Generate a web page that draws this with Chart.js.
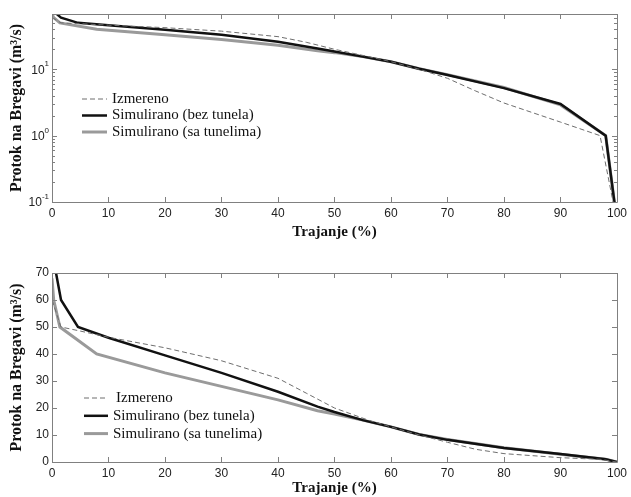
<!DOCTYPE html>
<html>
<head>
<meta charset="utf-8">
<script src="https://cdn.jsdelivr.net/npm/chart.js@4/dist/chart.umd.min.js"></script>
<style>
  html, body { margin: 0; padding: 0; background: #fff; }
  .wrap { position: absolute; left: 0; width: 631px; }
</style>
</head>
<body>
<div class="wrap" style="top:0;height:248px"><canvas id="log-chart"></canvas></div>
<div class="wrap" style="top:248px;height:249px"><canvas id="lin-chart"></canvas></div>
<script>
// Flow duration curves
// x = duration (%), y = discharge (m3/s)
const izmerenoX = [0, 1.6, 5, 10, 20, 30, 40, 45, 50, 56, 60, 65, 70, 75, 80, 90, 97, 100];
const izmerenoY = [60, 50, 48.5, 46.2, 42.3, 37.5, 31, 25.5, 20, 15.5, 13, 10, 7.3, 4.7, 3.1, 1.6, 1.0, 0];

const bezTunelaX = [0, 1.6, 4.6, 10, 20, 30, 40, 47, 50, 55, 60, 65, 70, 80, 90, 98, 100];
const bezTunelaY = [78, 60, 50, 46, 39.5, 33, 26, 20.5, 18.5, 15.5, 13, 10.2, 8.2, 5.2, 3.0, 1.0, 0];

const saTunelimaX = [0, 0.3, 1.4, 7.9, 20, 30, 40, 47, 50, 55, 60, 65, 70, 80, 90, 98, 100];
const saTunelimaY = [68, 60, 50, 40, 33, 28, 23, 19, 17.8, 15.5, 13, 10.2, 8.3, 5.3, 2.9, 1.0, 0];

const seriesNames = ['Izmereno', 'Simulirano (bez tunela)', 'Simulirano (sa tunelima)'];
const xTicks = [0, 10, 20, 30, 40, 50, 60, 70, 80, 90, 100];
const logTicks = [0.1, 1, 10];
const linTicks = [0, 10, 20, 30, 40, 50, 60, 70];

// a log axis has no zero, so zero flows are sent just below the axis floor
const LOG_FLOOR = 0.05;

const AXIS_FONT = 'Arial, "Liberation Sans", sans-serif';
const SERIF = '"Times New Roman", "Liberation Serif", serif';

function pairs(xs, ys, isLog) {
    return xs.map((x, i) => ({ x: x, y: isLog && ys[i] <= 0 ? LOG_FLOOR : ys[i] }));
}

function makeDatasets(isLog) {
    return [{
        label: seriesNames[0],
        data: pairs(izmerenoX, izmerenoY, isLog),
        borderColor: '#6e6e6e',
        borderWidth: 1,
        borderDash: [5, 3],
        order: 0
    }, {
        label: seriesNames[1],
        data: pairs(bezTunelaX, bezTunelaY, isLog),
        borderColor: '#111111',
        borderWidth: 2.5,
        order: 1
    }, {
        label: seriesNames[2],
        data: pairs(saTunelimaX, saTunelimaY, isLog),
        borderColor: '#9a9a9a',
        borderWidth: 3,
        order: 2
    }];
}

// box around the plot with inward ticks, MATLAB style
const framePlugin = {
    id: 'frame',
    afterDraw(chart, args, opts) {
        const ctx = chart.ctx;
        const a = chart.chartArea;
        const xs = chart.scales.x, ys = chart.scales.y;
        ctx.save();
        ctx.strokeStyle = '#808080';
        ctx.lineWidth = 1;
        ctx.beginPath();
        ctx.rect(Math.round(a.left) + 0.5, Math.round(a.top) + 0.5,
                 Math.round(a.right - a.left), Math.round(a.bottom - a.top));
        ctx.stroke();

        ctx.beginPath();
        xs.ticks.forEach(t => {
            const px = Math.round(xs.getPixelForValue(t.value)) + 0.5;
            ctx.moveTo(px, a.top); ctx.lineTo(px, a.top + 5);
            ctx.moveTo(px, a.bottom); ctx.lineTo(px, a.bottom - 5);
        });
        ys.ticks.forEach(t => {
            const py = Math.round(ys.getPixelForValue(t.value)) + 0.5;
            ctx.moveTo(a.left, py); ctx.lineTo(a.left + 5, py);
            ctx.moveTo(a.right, py); ctx.lineTo(a.right - 5, py);
        });
        if (opts.minor) {
            ys.ticks.forEach(t => {
                for (let m = 2; m <= 9; m++) {
                    const v = t.value * m;
                    if (v > ys.max) break;
                    const py = Math.round(ys.getPixelForValue(v)) + 0.5;
                    ctx.moveTo(a.left, py); ctx.lineTo(a.left + 3, py);
                    ctx.moveTo(a.right, py); ctx.lineTo(a.right - 3, py);
                }
            });
        }
        ctx.stroke();

        // powers of ten as 10 with a raised exponent
        if (opts.powerLabels) {
            ctx.fillStyle = '#222';
            ctx.textBaseline = 'middle';
            ys.ticks.forEach(t => {
                const py = ys.getPixelForValue(t.value);
                const exp = String(Math.round(Math.log10(t.value)));
                ctx.font = '8px ' + AXIS_FONT;
                const ew = ctx.measureText(exp).width;
                ctx.textAlign = 'right';
                ctx.fillText(exp, a.left - 3, py - 5);
                ctx.font = '12px ' + AXIS_FONT;
                ctx.fillText('10', a.left - 3 - ew, py + 1);
            });
        }
        ctx.restore();
    }
};

// legend drawn inside the plot area
const insideLegend = {
    id: 'insideLegend',
    afterDraw(chart, args, opts) {
        const ctx = chart.ctx;
        const a = chart.chartArea;
        ctx.save();
        ctx.font = '15px ' + SERIF;
        ctx.fillStyle = '#111';
        ctx.textBaseline = 'middle';
        ctx.textAlign = 'left';
        chart.data.datasets.forEach((ds, i) => {
            const y = a.top + opts.y + i * opts.row;
            ctx.strokeStyle = ds.borderColor;
            ctx.lineWidth = ds.borderWidth;
            ctx.setLineDash(ds.borderDash || []);
            ctx.beginPath();
            ctx.moveTo(opts.x1, y);
            ctx.lineTo(opts.x2, y);
            ctx.stroke();
            ctx.setLineDash([]);
            ctx.fillText(ds.label, opts.textX + (i === 0 ? opts.firstShift : 0), y);
        });
        ctx.restore();
    }
};

function xAxis(titleBottom, height) {
    return {
        type: 'linear',
        min: 0,
        max: 100,
        afterBuildTicks: s => { s.ticks = xTicks.map(v => ({ value: v })); },
        grid: { display: false, drawTicks: false },
        border: { display: false },
        ticks: { color: '#222', padding: 4, font: { family: AXIS_FONT, size: 12 } },
        title: {
            display: true,
            text: 'Trajanje (%)',
            color: '#111',
            font: { family: SERIF, size: 15, weight: 'bold' },
            padding: { top: 0, bottom: titleBottom }
        },
        afterFit: s => { s.height = height; }
    };
}

function yTitle() {
    return {
        display: true,
        text: 'Protok na Bregavi (m\u00B3/s)',
        color: '#111',
        font: { family: SERIF, size: 16, weight: 'bold' },
        padding: { top: 7, bottom: 0 }
    };
}

const logChart = new Chart(document.getElementById('log-chart').getContext('2d'), {
    type: 'line',
    data: { datasets: makeDatasets(true) },
    options: {
        responsive: true,
        maintainAspectRatio: false,
        animation: false,
        events: [],
        elements: { point: { radius: 0 }, line: { tension: 0 } },
        layout: { padding: { left: 0, right: 10, top: 14, bottom: 0 } },
        scales: {
            x: xAxis(7, 46),
            y: {
                type: 'logarithmic',
                min: 0.1,
                max: 68,
                afterBuildTicks: s => { s.ticks = logTicks.map(v => ({ value: v })); },
                grid: { display: false, drawTicks: false },
                border: { display: false },
                ticks: { display: false },
                title: yTitle(),
                afterFit: s => { s.width = 52; }
            }
        },
        plugins: {
            legend: { display: false },
            tooltip: { enabled: false },
            frame: { minor: true, powerLabels: true },
            insideLegend: { x1: 82, x2: 107, textX: 112, firstShift: 0, y: 85, row: 16.5 }
        }
    },
    plugins: [framePlugin, insideLegend]
});

const linChart = new Chart(document.getElementById('lin-chart').getContext('2d'), {
    type: 'line',
    data: { datasets: makeDatasets(false) },
    options: {
        responsive: true,
        maintainAspectRatio: false,
        animation: false,
        events: [],
        elements: { point: { radius: 0 }, line: { tension: 0 } },
        layout: { padding: { left: 0, right: 10, top: 25, bottom: 0 } },
        scales: {
            x: xAxis(0, 35),
            y: {
                type: 'linear',
                min: 0,
                max: 70,
                afterBuildTicks: s => { s.ticks = linTicks.map(v => ({ value: v })); },
                grid: { display: false, drawTicks: false },
                border: { display: false },
                ticks: { color: '#222', padding: 3, font: { family: AXIS_FONT, size: 12 } },
                title: yTitle(),
                afterFit: s => { s.width = 52; }
            }
        },
        plugins: {
            legend: { display: false },
            tooltip: { enabled: false },
            frame: { minor: false },
            insideLegend: { x1: 84, x2: 108, textX: 113, firstShift: 3, y: 125, row: 17.8 }
        }
    },
    plugins: [framePlugin, insideLegend]
});
</script>
</body>
</html>
